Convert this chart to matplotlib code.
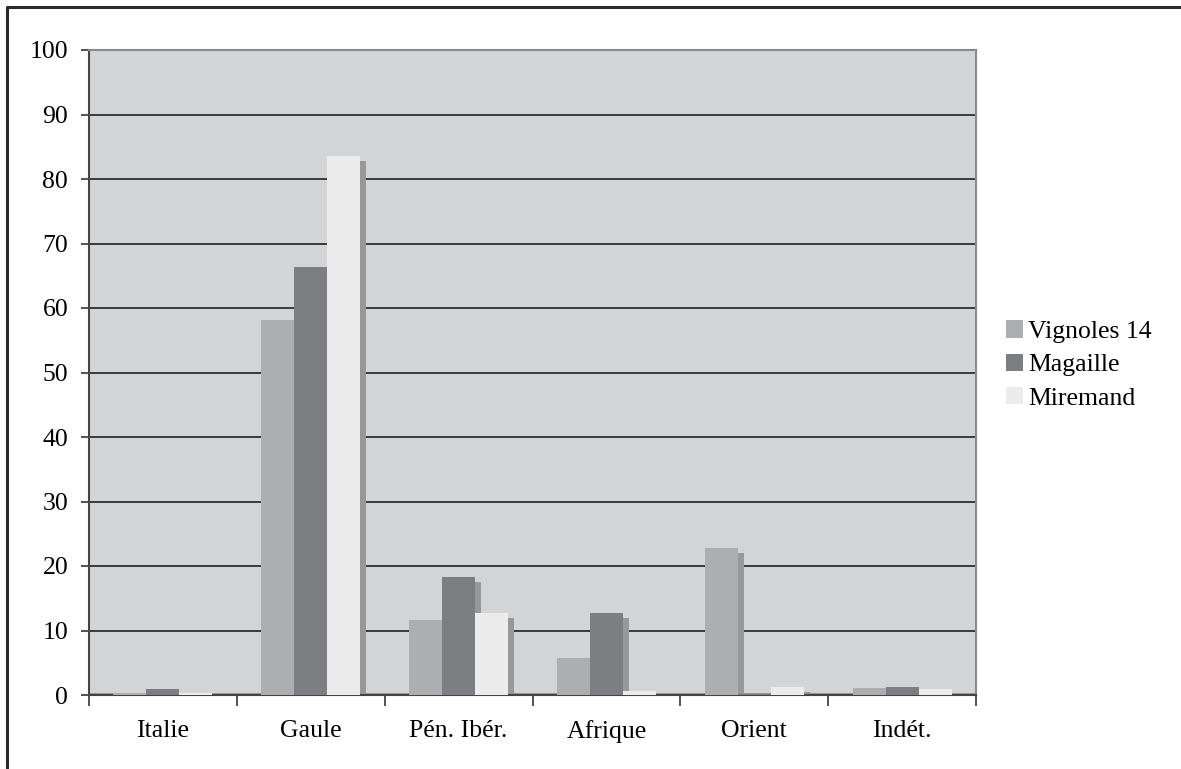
import numpy as np
import matplotlib
matplotlib.use("Agg")
import matplotlib.pyplot as plt
from matplotlib.patches import Patch
from matplotlib.lines import Line2D

plt.rcParams['font.family'] = ['Liberation Serif', 'DejaVu Serif']

categories = ["Italie", "Gaule", "Pén. Ibér.", "Afrique", "Orient", "Indét."]
series_names = ["Vignoles 14", "Magaille", "Miremand"]
vignoles = [0.3, 58.1, 11.6, 5.7, 22.8, 1.1]
magaille = [0.9, 66.4, 18.3, 12.7, 0.2, 1.2]
miremand = [0.3, 83.6, 12.7, 0.6, 1.2, 0.9]
colors = ["#adaeb0", "#7d7e81", "#ececec"]
shadow_color = "#97989a"

W, H = 1181, 769
fig = plt.figure(figsize=(W / 100, H / 100), dpi=100)
fig.patch.set_facecolor("white")
ax = fig.add_axes([89 / W, 1 - 695 / H, 887 / W, 645 / H])
ax.set_facecolor("#d3d4d6")

n = len(categories)
centers = np.arange(n) + 0.5
bar_w = 0.223
# pixel offsets of the drop shadow converted into data units
sx = 6 / 887 * n
sy = 5 / 645 * 100

# thin floor strip along the baseline
ax.bar(centers, 0.35, width=1.0, color=shadow_color, zorder=1, linewidth=0)

for k, vals in enumerate([vignoles, magaille, miremand]):
    x = centers + (k - 1) * bar_w
    vals = np.array(vals)
    ax.bar(x + sx, np.maximum(vals - sy, 0), width=bar_w, color=shadow_color,
           zorder=2, linewidth=0)
for k, vals in enumerate([vignoles, magaille, miremand]):
    x = centers + (k - 1) * bar_w
    ax.bar(x, vals, width=bar_w, color=colors[k], zorder=3 + k * 0.1, linewidth=0)

ax.set_xlim(0, n)
ax.set_ylim(0, 100)
ax.set_yticks(np.arange(0, 101, 10))
ax.yaxis.grid(True, color="#2e2e2e", linewidth=1.3, zorder=1.5)
ax.set_axisbelow(True)

ax.set_xticks(np.arange(n + 1))
ax.set_xticklabels([])
ax.set_xticks(centers, minor=True)
ax.set_xticklabels(categories, minor=True)
ax.tick_params(axis="x", which="major", length=8, width=1.3, color="#444444")
ax.tick_params(axis="x", which="minor", length=0, pad=18, labelsize=18.5)
ax.tick_params(axis="y", length=6, width=1.3, color="#444444", pad=9,
               labelsize=18.5)

for side in ["top", "right"]:
    ax.spines[side].set_color("#8a8a8a")
    ax.spines[side].set_linewidth(1.5)
for side in ["left", "bottom"]:
    ax.spines[side].set_color("#444444")
    ax.spines[side].set_linewidth(1.5)

handles = [Patch(facecolor=c, edgecolor="none") for c in colors]
fig.legend(handles, series_names, loc="center left",
           bbox_to_anchor=(1006 / W, 1 - 365 / H), frameon=False,
           fontsize=18.5, handlelength=0.66, handleheight=0.66,
           handletextpad=0.2, labelspacing=0.42, borderpad=0,
           borderaxespad=0)

# outer frame, left and top edges
fig.add_artist(Line2D([7 / W, 7 / W, 1], [0, 1 - 7 / H, 1 - 7 / H],
                      color="#2a2a2a", linewidth=2.2))

fig.savefig("out.png", dpi=100)
